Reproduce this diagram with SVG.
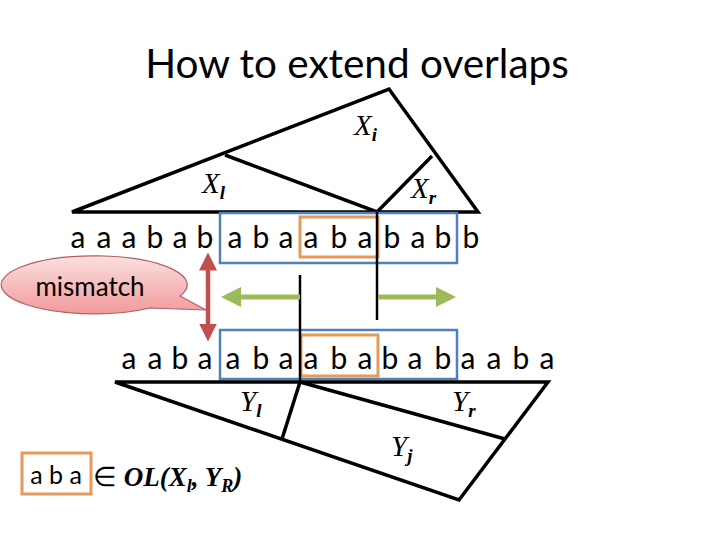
<svg xmlns="http://www.w3.org/2000/svg" width="720" height="540" viewBox="0 0 720 540">
<style>
.tri{fill:none;stroke:#000;stroke-width:3.5;stroke-linejoin:miter}
.str{font-family:Lato,"Open Sans",sans-serif;font-size:30px;fill:#000;text-anchor:middle}
.lbl{font-family:"Liberation Serif",serif;font-style:italic;font-size:29px;fill:#000}
.sub{font-size:19px;font-weight:bold}
.blue{fill:none;stroke:#4F81BD;stroke-width:2.5}
.orange{fill:none;stroke:#E39A5C;stroke-width:3}
.vline{stroke:#000;stroke-width:2.5}
</style>
<defs>
<linearGradient id="pink" x1="0" y1="0" x2="0" y2="1">
<stop offset="0" stop-color="#FBE0E0"/>
<stop offset="1" stop-color="#F29A9A"/>
</linearGradient>
<marker id="gh" markerWidth="4" markerHeight="4" refX="3" refY="2" orient="auto" markerUnits="strokeWidth">
<path d="M0,0 L4,2 L0,4 z" fill="#9BBB59"/>
</marker>
<marker id="rh" markerWidth="4" markerHeight="4" refX="3" refY="2" orient="auto-start-reverse" markerUnits="strokeWidth">
<path d="M0,0 L4,2 L0,4 z" fill="#C0504D"/>
</marker>
</defs>
<rect width="720" height="540" fill="#fff"/>
<text x="357" y="78" font-family="Lato,'Open Sans',sans-serif" font-size="40.5" text-anchor="middle" fill="#000">How to extend overlaps</text>

<g id="tree-X">
<polygon class="tri" points="72,212 389,89 478,212"/>
<polyline class="tri" points="225,155 377,212 432,156"/>
<text class="lbl" x="354" y="135">X<tspan class="sub" dy="6">i</tspan></text>
<text class="lbl" x="202" y="193">X<tspan class="sub" dy="6">l</tspan></text>
<text class="lbl" x="411" y="198">X<tspan class="sub" dy="6">r</tspan></text>
</g>

<g id="string-top">
<rect class="blue" x="220" y="213" width="237" height="50"/>
<rect class="orange" x="300" y="217" width="78" height="40"/>
<text class="str" y="248"><tspan x="78">a</tspan><tspan x="104">a</tspan><tspan x="129">a</tspan><tspan x="155">b</tspan><tspan x="180">a</tspan><tspan x="205">b</tspan><tspan x="235">a</tspan><tspan x="261">b</tspan><tspan x="286">a</tspan><tspan x="311">a</tspan><tspan x="339">b</tspan><tspan x="365">a</tspan><tspan x="392">b</tspan><tspan x="418">a</tspan><tspan x="443">b</tspan><tspan x="471">b</tspan></text>
</g>

<g id="string-bottom">
<rect class="blue" x="220" y="330" width="237" height="49"/>
<rect class="orange" x="301" y="335" width="77" height="41"/>
<text class="str" y="369"><tspan x="129">a</tspan><tspan x="155">a</tspan><tspan x="180">b</tspan><tspan x="205">a</tspan><tspan x="233">a</tspan><tspan x="261">b</tspan><tspan x="286">a</tspan><tspan x="311">a</tspan><tspan x="339">b</tspan><tspan x="365">a</tspan><tspan x="390">b</tspan><tspan x="415">a</tspan><tspan x="443">b</tspan><tspan x="468">a</tspan><tspan x="494">a</tspan><tspan x="521">b</tspan><tspan x="547">a</tspan></text>
</g>

<g id="tree-Y">
<polygon class="tri" points="115,382 548,382 459,500"/>
<polyline class="tri" points="300,382 505,439"/>
<line class="tri" x1="300" y1="382" x2="282" y2="439"/>
<text class="lbl" x="240" y="411">Y<tspan class="sub" dy="6">l</tspan></text>
<text class="lbl" x="452" y="411">Y<tspan class="sub" dy="6">r</tspan></text>
<text class="lbl" x="391" y="456">Y<tspan class="sub" dy="6">j</tspan></text>
</g>

<g id="mismatch">
<path d="M150,308 A93,29 0 1 1 180,296 L206,310 Z" fill="url(#pink)" stroke="#B06060" stroke-width="1.2"/>
<text x="90" y="296" font-family="Lato,'Open Sans',sans-serif" font-size="26" text-anchor="middle" fill="#000">mismatch</text>
</g>

<g id="formula">
<rect class="orange" x="22" y="453" width="69" height="41"/>
<text x="56" y="484" font-family="Lato,'Open Sans',sans-serif" font-size="25" text-anchor="middle" fill="#000">a b a</text>
<text x="93" y="486" font-family="'Liberation Serif',serif" font-size="27" fill="#000">∈ <tspan font-style="italic" font-weight="bold">OL(X<tspan font-size="18" dy="6">l</tspan><tspan dy="-6">, Y</tspan><tspan font-size="18" dy="6">R</tspan><tspan dy="-6">)</tspan></tspan></text>
</g>

<g id="connectors">
<line class="vline" x1="377" y1="212" x2="377" y2="320"/>
<line class="vline" x1="300" y1="275" x2="300" y2="382"/>
<line x1="300" y1="297" x2="226" y2="297" stroke="#9BBB59" stroke-width="5" marker-end="url(#gh)"/>
<line x1="378" y1="297" x2="451" y2="297" stroke="#9BBB59" stroke-width="5" marker-end="url(#gh)"/>
<line x1="208" y1="257" x2="208" y2="337" stroke="#C0504D" stroke-width="4.5" marker-start="url(#rh)" marker-end="url(#rh)"/>
</g>
</svg>
